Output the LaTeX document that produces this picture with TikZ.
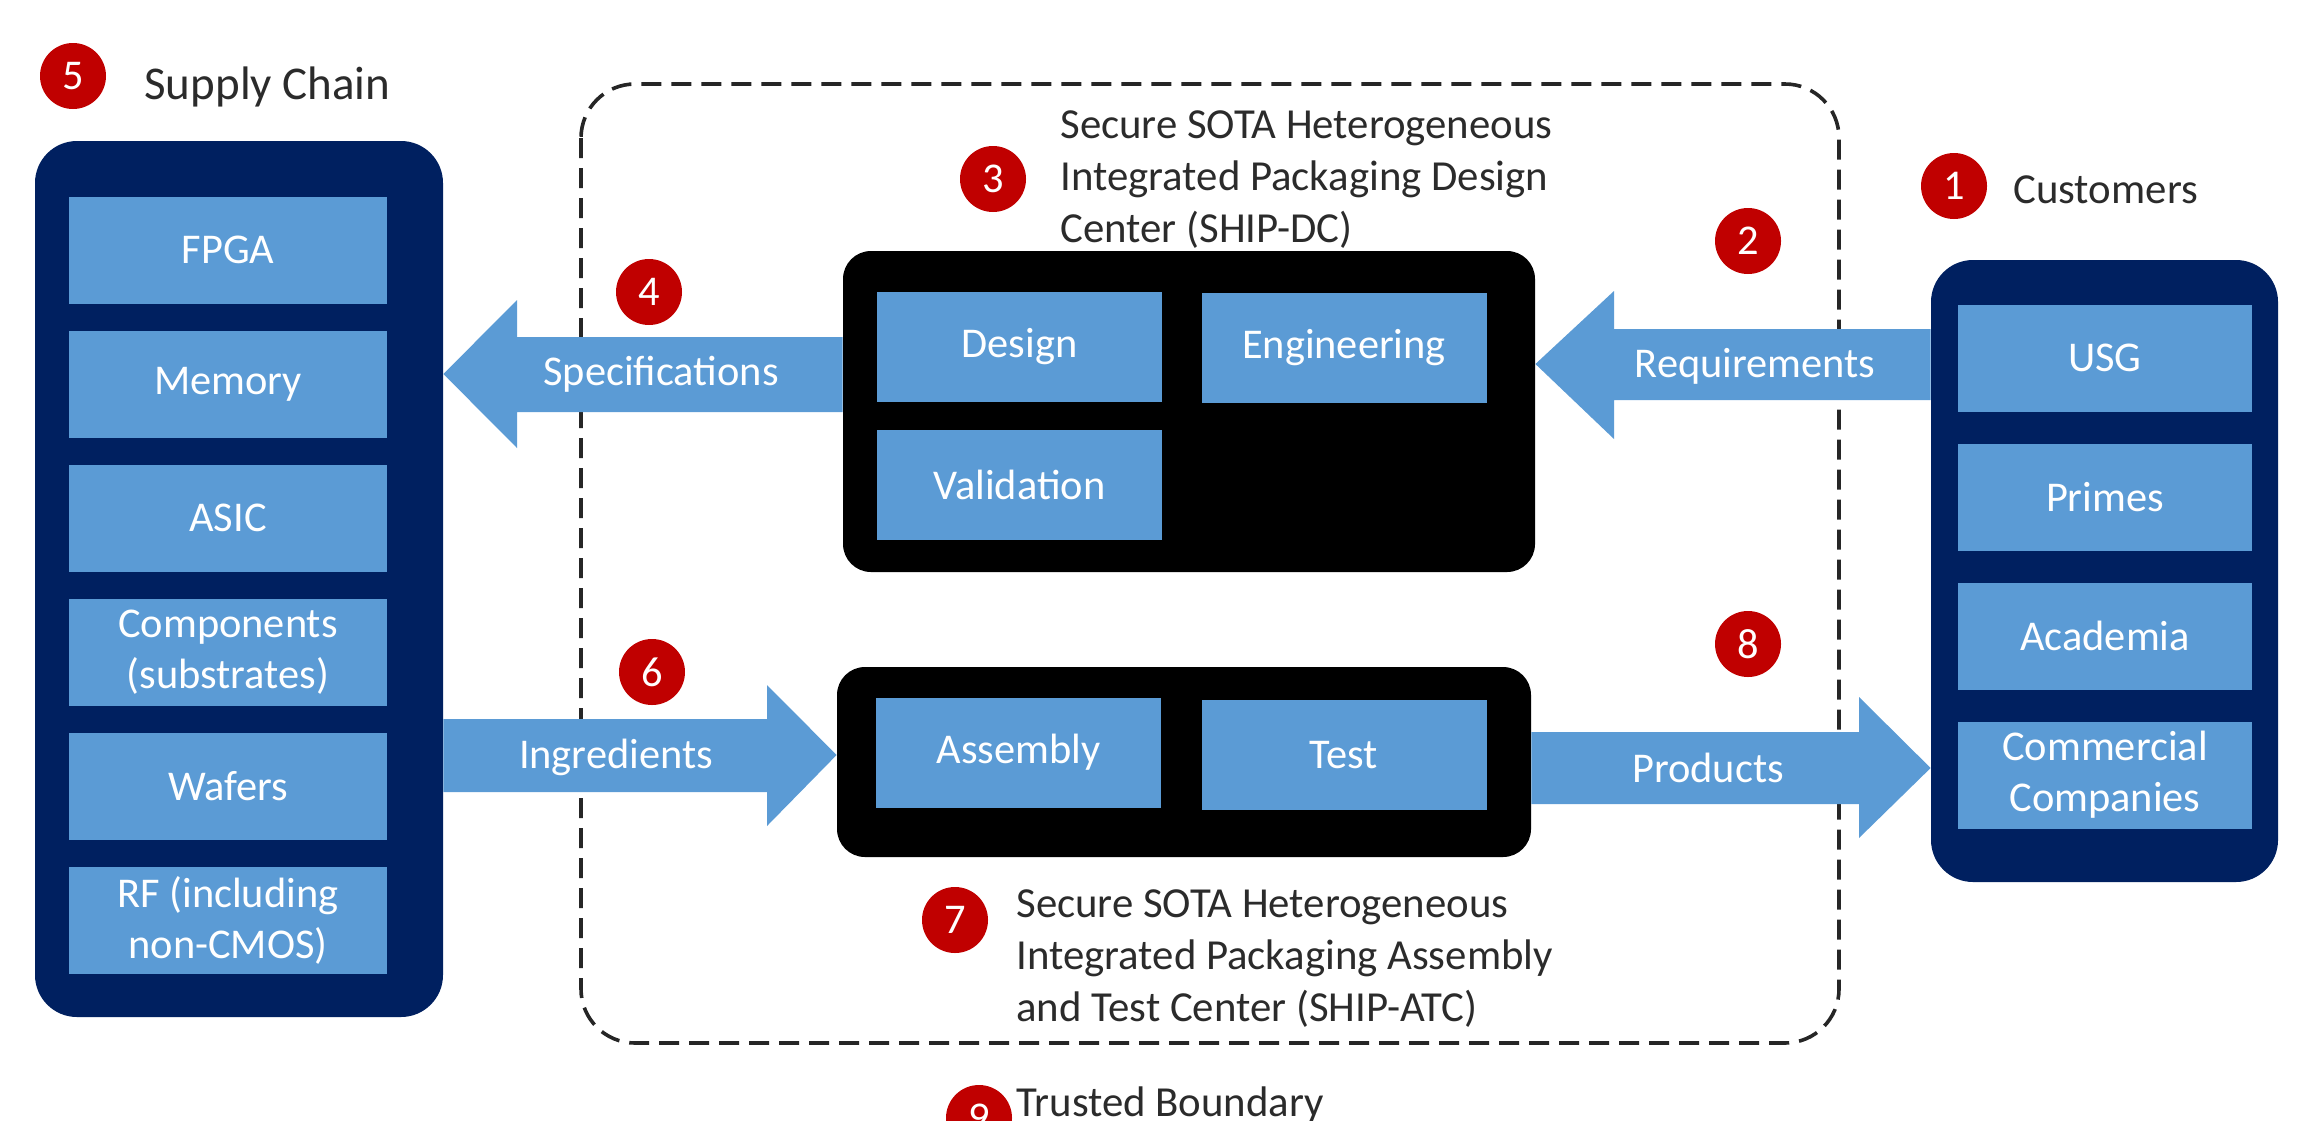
\documentclass[tikz,border=0pt]{standalone}
\usepackage{fontspec}
\setmainfont{Carlito}
\definecolor{navy}{HTML}{002060}
\definecolor{lblue}{HTML}{5B9BD5}
\definecolor{numred}{HTML}{C00000}
\definecolor{tgray}{HTML}{2B2B2B}
\newcommand\boxfnt{\fontsize{21.2}{25.5}\selectfont}
\newcommand\titlefnt{\fontsize{21.4}{26}\selectfont}
\begin{document}
\begin{tikzpicture}[x=0.5pt,y=-0.5pt,
  navybox/.style={fill=navy, rounded corners=21pt, inner sep=0pt},
  blackbox/.style={fill=black, rounded corners=14pt, inner sep=0pt},
  ibox/.style={fill=lblue, text=white, font=\boxfnt, align=center, inner sep=0pt},
  sbox/.style={ibox, minimum width=159pt, minimum height=53.5pt},
  cbox/.style={ibox, minimum width=147pt, minimum height=53.5pt},
  dbox/.style={ibox, minimum width=142.5pt, minimum height=55pt},
  num/.style={circle, fill=numred, text=white, minimum size=33pt, inner sep=0pt, font=\boxfnt},
  ttl/.style={text=tgray, font=\titlefnt, align=left, anchor=base west, inner sep=0pt},
  arrowfill/.style={fill=lblue},
  alabel/.style={text=white, font=\boxfnt, inner sep=0pt},
  boundary/.style={draw=black!85, line width=1.8pt, dash pattern=on 10pt off 5pt, rounded corners=27pt}
]
\useasboundingbox (0,0) rectangle (2321,1120);
\clip (0,0) rectangle (2321,1120);

% trusted boundary
\draw[boundary] (581,84) rectangle (1839,1043);

% supply chain
\node[navybox, minimum width=204pt, minimum height=438pt] (supply) at (239,579) {};
\node[sbox] (fpga) at (228,250) {FPGA};
\node[sbox] (memory) at (228,384) {Memory};
\node[sbox] (asic) at (228,518) {ASIC};
\node[sbox] (comp) at (228,652) {Components\\(substrates)};
\node[sbox] (wafers) at (228,786) {Wafers};
\node[sbox] (rf) at (228,920) {RF (including\\non-CMOS)};

% customers
\node[navybox, minimum width=173.5pt, minimum height=311pt] (cust) at (2104.5,571) {};
\node[cbox] (usg) at (2105,358) {USG};
\node[cbox] (primes) at (2105,497) {Primes};
\node[cbox] (acad) at (2105,636) {Academia};
\node[cbox] (comm) at (2105,775) {Commercial\\Companies};

% design center
\node[blackbox, minimum width=346pt, minimum height=160.5pt] (dc) at (1189,411.5) {};
\node[dbox] (design) at (1019.5,347) {Design};
\node[dbox] (eng) at (1344,348) {Engineering};
\node[dbox] (valid) at (1019.5,484.5) {Validation};

% assembly and test center
\node[blackbox, minimum width=347pt, minimum height=95pt] (atc) at (1184,762) {};
\node[dbox] (assembly) at (1018.5,752.5) {Assembly};
\node[dbox] (test) at (1344,755) {Test};

% arrows
\fill[arrowfill] (dc.west |- 0,337) -- (517,337) -- (517,300) -- (supply.east |- 0,374)
  -- (517,448) -- (517,412) -- (dc.west |- 0,412) -- cycle;
\node[alabel] (lspec) at (661,374) {Specifications};

\fill[arrowfill] (cust.west |- 0,329) -- (1614,329) -- (1614,291) -- (dc.east |- 0,364)
  -- (1614,439) -- (1614,400) -- (cust.west |- 0,400) -- cycle;
\node[alabel] (lreq) at (1755,366) {Requirements};

\fill[arrowfill] (supply.east |- 0,719) -- (767,719) -- (767,685) -- (atc.west |- 0,755)
  -- (767,826) -- (767,792) -- (supply.east |- 0,792) -- cycle;
\node[alabel] (ling) at (616,757) {Ingredients};

\fill[arrowfill] (atc.east |- 0,732) -- (1859,732) -- (1859,697) -- (cust.west |- 0,768)
  -- (1859,838) -- (1859,804) -- (atc.east |- 0,804) -- cycle;
\node[alabel] (lprod) at (1708,768) {Products};

% number badges
\node[num] (n1) at (1954,186) {1};
\node[num] (n2) at (1748,241) {2};
\node[num] (n3) at (993,179) {3};
\node[num] (n4) at (649,292) {4};
\node[num] (n5) at (73,76) {5};
\node[num] (n6) at (652,672) {6};
\node[num] (n7) at (955,920) {7};
\node[num] (n8) at (1748,644) {8};
\node[num] (n9) at (979,1118) {9};

% titles
\node[ttl, font=\fontsize{23.5}{28}\selectfont] (tsupply) at (144,99) {Supply Chain};
\node[ttl] (tcust) at (2013,203) {Customers};
\node[ttl] (tdc) at (1060,242) {Secure SOTA Heterogeneous\\Integrated Packaging Design\\Center (SHIP-DC)};
\node[ttl] (tatc) at (1016,1021) {Secure SOTA Heterogeneous\\Integrated Packaging Assembly\\and Test Center (SHIP-ATC)};
\node[ttl] (ttb) at (1016,1116) {Trusted Boundary};
\end{tikzpicture}
\end{document}
